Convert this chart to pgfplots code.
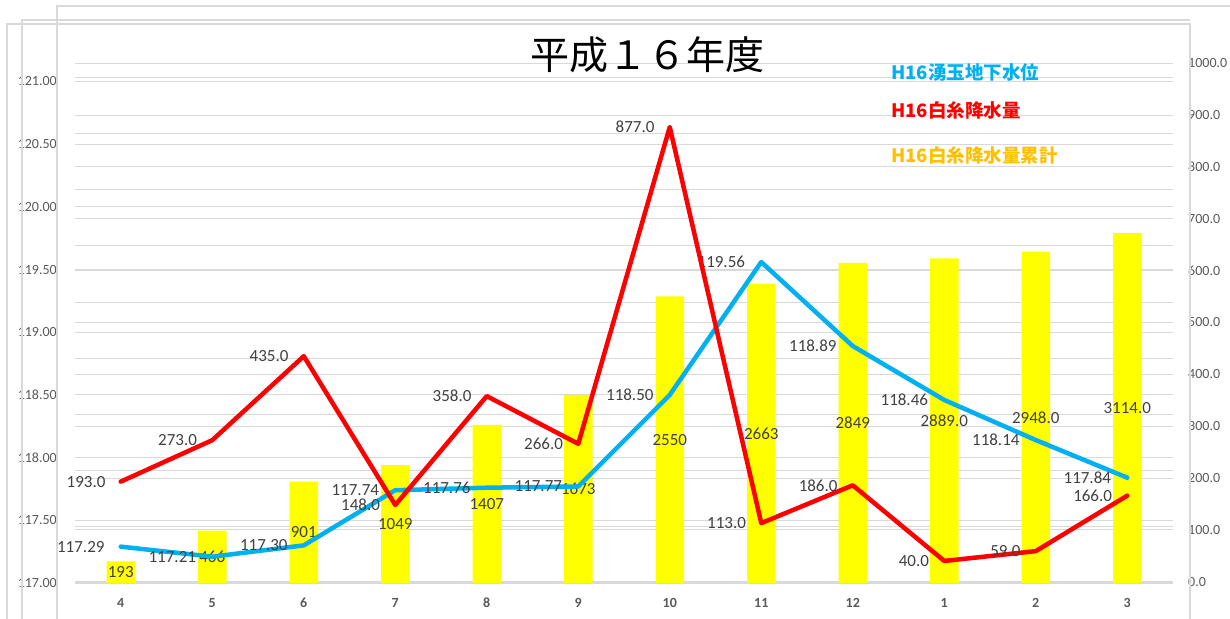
\documentclass[border=0pt]{standalone}
\usepackage{pgfplots}
\pgfplotsset{compat=1.18}
\usepackage{pgfplotstable}
\usepackage{fontspec}
\setmainfont{Carlito}
\newfontfamily\cjk{Noto Sans CJK JP}
\definecolor{gridgray}{HTML}{D9D9D9}
\definecolor{ticktext}{HTML}{595959}
\definecolor{labeltext}{HTML}{404040}
\definecolor{lineblue}{HTML}{00B0F0}
\definecolor{linered}{HTML}{FF0000}
\definecolor{baryellow}{HTML}{FFFF00}
\definecolor{legendgold}{HTML}{FFC000}

\pgfplotstableread{
x level  rain  cum  label
0 117.29 193.0 193  193
1 117.21 273.0 466  466
2 117.30 435.0 901  901
3 117.74 148.0 1049 1049
4 117.76 358.0 1407 1407
5 117.77 266.0 1673 1673
6 118.50 877.0 2550 2550
7 119.56 113.0 2663 2663
8 118.89 186.0 2849 2849
9 118.46 40.0  2889 2889.0
10 118.14 59.0 2948 2948.0
11 117.84 166.0 3114 3114.0
}\data

\pgfplotsset{
  base/.style={
    scale only axis, width=1098pt, xmin=-0.5, xmax=11.5,
    axis line style={draw=none}, major tick length=0pt,
    set layers, clip=false,
    grid style={gridgray, line width=1pt},
    /pgf/number format/assume math mode=true,
    xtick=\empty,
  },
}
\tikzset{lbl/.style={anchor=east, inner sep=0pt, font=\fontsize{17}{17}\selectfont, text=labeltext}}

\begin{document}
\begin{tikzpicture}
% overlapping chart-area borders
\draw[gridgray, line width=1.2pt] (7pt,-10pt) -- (7pt,594pt) -- (1190pt,594pt) -- (1190pt,-10pt);
\draw[gridgray, line width=1.2pt] (22pt,-10pt) -- (22pt,598pt) -- (1190pt,598pt);
\draw[gridgray, line width=1.2pt] (57pt,-10pt) -- (57pt,612pt) -- (1240pt,612pt);

% cumulative rainfall bars (hidden axis 0-4500)
\begin{axis}[base, at={(75pt,35pt)}, anchor=south west, height=505.7pt,
  ymin=0, ymax=4500, ytick={0,500,...,4500}, yticklabels={}, ymajorgrids,
  xtick={0,...,11}, xticklabels={4,5,6,7,8,9,10,11,12,1,2,3},
  xticklabel style={anchor=center, yshift=-20pt, font=\fontsize{14}{14}\selectfont\bfseries, text=ticktext},
]
\draw[gridgray, line width=2pt] (axis cs:-0.5,0) -- (axis cs:11.5,0);
\addplot[ybar, bar width=28.5pt, fill=baryellow, draw=none,
  point meta=explicit symbolic, nodes near coords,
  visualization depends on={y \as \rawy},
  every node near coord/.append style={anchor=center, inner sep=0pt,
    font=\fontsize{17}{17}\selectfont, text=labeltext,
    shift={(axis direction cs:0,-\rawy/2)}},
] table[x=x, y=cum, meta=label] {\data};
\end{axis}

% groundwater level (left axis)
\begin{axis}[base, at={(75pt,35pt)}, anchor=south west, height=501.5pt,
  ymin=117, ymax=121,
  ytick={117,117.5,118,118.5,119,119.5,120,120.5,121}, ymajorgrids,
  yticklabel style={anchor=east, inner sep=0pt, xshift=-18pt,
    font=\fontsize{14}{14}\selectfont, text=ticktext,
    /pgf/number format/.cd, fixed, fixed zerofill, precision=2, /tikz/.cd},
]
\addplot[lineblue, line width=4.5pt, line join=round, line cap=round, no markers,
  point meta=explicit symbolic, nodes near coords,
  every node near coord/.append style={lbl, xshift=-14pt},
] table[x=x, y=level, meta=level] {\data};
\end{axis}

% monthly rainfall (right axis)
\begin{axis}[base, at={(75pt,36.3pt)}, anchor=south west, height=518.4pt,
  ymin=0, ymax=1000, ytick={0,100,...,1000}, ymajorgrids,
  yticklabel pos=right,
  yticklabel style={anchor=west, inner sep=0pt, xshift=15pt,
    font=\fontsize{14}{14}\selectfont, text=ticktext,
    /pgf/number format/.cd, fixed, fixed zerofill, precision=1, 1000 sep={}, /tikz/.cd},
]
\addplot[linered, line width=4.5pt, line join=round, line cap=round, no markers,
  point meta=explicit symbolic, nodes near coords,
  every node near coord/.append style={lbl, xshift=-13pt},
] table[x=x, y=rain, meta=rain] {\data};
\end{axis}

% title and legend texts
\node[font=\cjk\fontsize{39}{39}\selectfont, inner sep=0pt] at (647pt,563pt) {平成１６年度};
\node[anchor=west, inner sep=0pt, text=lineblue, font=\cjk\bfseries\fontsize{18.5}{18.5}\selectfont] at (891pt,545.3pt) {H16湧玉地下水位};
\node[anchor=west, inner sep=0pt, text=linered, font=\cjk\bfseries\fontsize{18.5}{18.5}\selectfont] at (891pt,508pt) {H16白糸降水量};
\node[anchor=west, inner sep=0pt, text=legendgold, font=\cjk\bfseries\fontsize{18.5}{18.5}\selectfont] at (891pt,462.3pt) {H16白糸降水量累計};

\pgfresetboundingbox
\path[use as bounding box] (0,0) rectangle (1230pt,618pt);
\end{tikzpicture}
\end{document}
